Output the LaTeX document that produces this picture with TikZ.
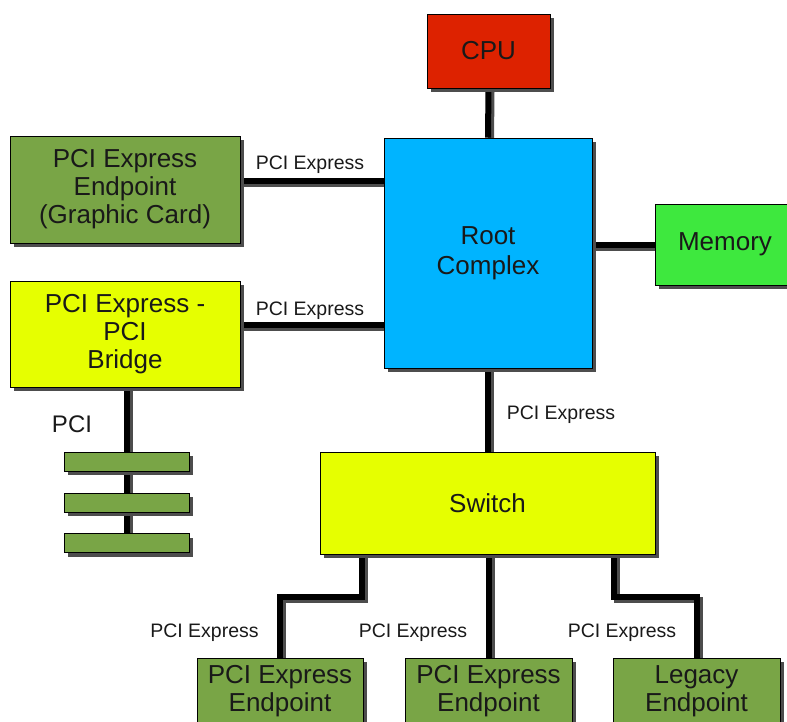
\documentclass[tikz,border=0pt]{standalone}
\usepackage{fontspec}
\setmainfont{Liberation Sans}
\usetikzlibrary{shadows,backgrounds}
\definecolor{cpured}{HTML}{DD2200}
\definecolor{rootblue}{HTML}{00B4FF}
\definecolor{memgreen}{HTML}{3EE83E}
\definecolor{olive}{HTML}{79A546}
\definecolor{yel}{HTML}{E6FF00}
\definecolor{shadowcol}{HTML}{4D4D4D}
\newcommand\myconns[1]{%
  \draw[line width=6pt,line join=miter,line cap=butt,#1] (CPU.south) -- (Root.north);
  \draw[line width=6pt,line join=miter,line cap=butt,#1] (g1) -- (g1 -| Root.west);
  \draw[line width=6pt,line join=miter,line cap=butt,#1] (b1) -- (b1 -| Root.west);
  \draw[line width=6pt,line join=miter,line cap=butt,#1] (Root.east |- Mem.west) -- (Mem.west);
  \draw[line width=6pt,line join=miter,line cap=butt,#1] (Root.south) -- (Root.south |- SW.north);
  \draw[line width=6pt,line join=miter,line cap=butt,#1] (B1.north |- BR.south) -- (B3.center);
  \draw[line width=6pt,line join=miter,line cap=butt,#1] (s1) -- ++(0,43) -| (E1.north);
  \draw[line width=6pt,line join=miter,line cap=butt,#1] (SW.south -| E2.north) -- (E2.north);
  \draw[line width=6pt,line join=miter,line cap=butt,#1] (s3) -- ++(0,43) -| (E3.north);
}
\begin{document}
\begin{tikzpicture}[x=1pt,y=-1pt,
  box/.style={draw=black, line width=0.8pt, align=center, inner sep=0pt,
    font=\fontsize{26}{28}\selectfont, text=black!90,
    general shadow={fill=shadowcol, shadow xshift=4pt, shadow yshift=-4pt}},
  lbl/.style={anchor=base, inner sep=0pt, font=\fontsize{19.5}{22}\selectfont, text=black!90}]
\useasboundingbox (0,0) rectangle (787,721);
% boxes
\node[box, fill=cpured, minimum width=123pt, minimum height=74pt] (CPU) at (488.5,51) {CPU};
\node[box, fill=rootblue, minimum width=208pt, minimum height=230pt, font=\fontsize{26}{30}\selectfont] (Root) at (488,253) {Root\\Complex};
\node[box, fill=memgreen, minimum width=140pt, minimum height=81pt] (Mem) at (725,244.5) {Memory};
\node[box, fill=olive, minimum width=230pt, minimum height=107pt] (GC) at (125,189.5) {PCI Express\\Endpoint\\(Graphic Card)};
\node[box, fill=yel, minimum width=230pt, minimum height=106pt] (BR) at (125,334) {PCI Express -\\PCI\\Bridge};
\node[box, fill=yel, minimum width=335pt, minimum height=102pt] (SW) at (487.5,503) {Switch};
\node[box, fill=olive, minimum width=125pt, minimum height=19pt] (B1) at (126.5,461.5) {};
\node[box, fill=olive, minimum width=125pt, minimum height=19pt] (B2) at (126.5,502.5) {};
\node[box, fill=olive, minimum width=125pt, minimum height=19pt] (B3) at (126.5,543) {};
\node[box, fill=olive, minimum width=166pt, minimum height=66pt] (E1) at (280,691) {PCI Express\\Endpoint};
\node[box, fill=olive, minimum width=167pt, minimum height=66pt] (E2) at (488.5,691) {PCI Express\\Endpoint};
\node[box, fill=olive, minimum width=167pt, minimum height=66pt] (E3) at (696.5,691) {Legacy\\Endpoint};
% helper coordinates
\coordinate (g1) at ([yshift=8.5pt]GC.east);
\coordinate (b1) at ([yshift=9pt]BR.east);
\coordinate (s1) at ([xshift=-125.5pt]SW.south);
\coordinate (s3) at ([xshift=126.5pt]SW.south);
% connectors
\begin{pgfonlayer}{background}
\begin{scope}[transform canvas={shift={(3pt,-3pt)}}]
\myconns{shadowcol}
\end{scope}
\myconns{black}
\end{pgfonlayer}
% labels
\node[lbl] (l1) at (310,169) {PCI Express};
\node[lbl] (l2) at (310,315) {PCI Express};
\node[lbl] (l3) at (561,419) {PCI Express};
\node[lbl] (l4) at (204.5,637) {PCI Express};
\node[lbl] (l5) at (413,637) {PCI Express};
\node[lbl] (l6) at (622,637) {PCI Express};
\node[inner sep=0pt, font=\fontsize{24}{26}\selectfont, text=black!90] (lpci) at (72,424) {PCI};
\end{tikzpicture}
\end{document}
